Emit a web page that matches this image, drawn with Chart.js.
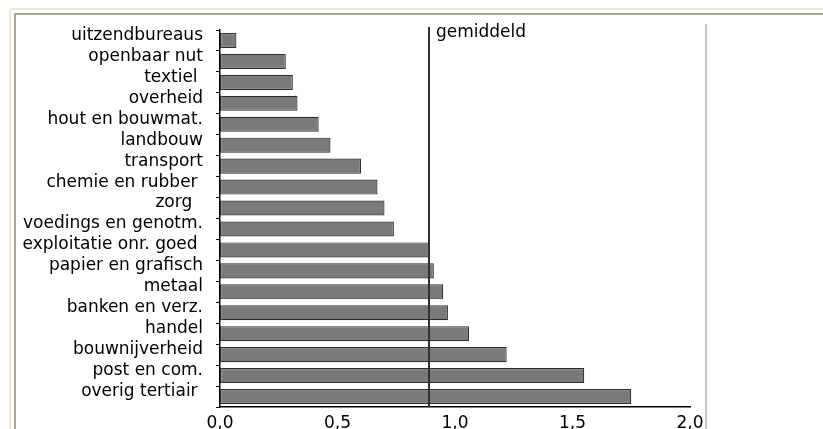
<!DOCTYPE html>
<html>
<head>
    <title>Gemiddeld per sector</title>
    <script src="https://cdn.jsdelivr.net/npm/chart.js@4.4.1/dist/chart.umd.min.js"></script>
    <style>
        body { margin: 0; background: #fff; }
        #wrap { position: relative; width: 823px; height: 429px; overflow: hidden; }
        #myChart { position: absolute; left: 0; top: 0; }
        .line { position: absolute; }
    </style>
</head>
<body>
<div id="wrap">
    <canvas id="myChart" width="823" height="429"></canvas>
    <div class="line" style="left:9px;top:8px;width:814px;height:2px;background:#ece9d8"></div>
    <div class="line" style="left:9px;top:8px;width:2px;height:421px;background:#ece9d8"></div>
    <div class="line" style="left:14px;top:13px;width:809px;height:2px;background:#a8a698"></div>
    <div class="line" style="left:14px;top:13px;width:2px;height:416px;background:#a8a698"></div>
    <div class="line" style="left:705px;top:24px;width:2px;height:405px;background:#c4c4c4"></div>
</div>
<script>
    // sectors, top to bottom
    var sectors = ['uitzendbureaus', 'openbaar nut', 'textiel ', 'overheid', 'hout en bouwmat.',
        'landbouw', 'transport', 'chemie en rubber ', 'zorg  ', 'voedings en genotm.',
        'exploitatie onr. goed ', 'papier en grafisch', 'metaal', 'banken en verz.', 'handel',
        'bouwnijverheid', 'post en com.', 'overig tertiair '];
    var values = [0.07, 0.28, 0.31, 0.33, 0.42, 0.47, 0.60, 0.67, 0.70, 0.74,
        0.89, 0.91, 0.95, 0.97, 1.06, 1.22, 1.55, 1.75];
    var gemiddeld = 0.89;
    var xTicks = [0, 0.5, 1.0, 1.5, 2.0];

    var font = { family: '"DejaVu Sans", sans-serif', size: 17 };

    var meanLine = {
        id: 'meanLine',
        afterDatasetsDraw: function (chart) {
            var ctx = chart.ctx;
            var x = Math.round(chart.scales.x.getPixelForValue(gemiddeld));
            ctx.save();
            ctx.strokeStyle = '#303030';
            ctx.lineWidth = 2;
            ctx.beginPath();
            ctx.moveTo(x, chart.chartArea.top - 3);
            ctx.lineTo(x, chart.chartArea.bottom);
            ctx.stroke();
            ctx.fillStyle = '#000';
            ctx.font = font.size + 'px ' + font.family;
            ctx.textAlign = 'left';
            ctx.textBaseline = 'alphabetic';
            ctx.fillText('gemiddeld', x + 7, chart.chartArea.top + 7);
            ctx.restore();
        }
    };

    var ctx = document.getElementById('myChart').getContext('2d');
    var myChart = new Chart(ctx, {
        type: 'bar',
        data: {
            labels: sectors,
            datasets: [{
                data: values,
                backgroundColor: '#7a7a7a',
                borderColor: '#2e2e2e',
                borderWidth: 1.2,
                borderSkipped: false,
                barPercentage: 0.72,
                categoryPercentage: 1
            }]
        },
        options: {
            indexAxis: 'y',
            responsive: false,
            animation: false,
            layout: { padding: { left: 0, top: 30, right: 133, bottom: 0 } },
            plugins: { legend: { display: false }, tooltip: { enabled: false } },
            scales: {
                x: {
                    min: 0,
                    max: 2,
                    afterBuildTicks: function (scale) {
                        scale.ticks = xTicks.map(function (v) { return { value: v }; });
                    },
                    afterFit: function (scale) {
                        scale.height = 22;
                        scale.paddingLeft = 0;
                        scale.paddingRight = 0;
                    },
                    grid: { display: false },
                    border: { display: true, color: '#000', width: 1.5 },
                    ticks: {
                        color: '#000',
                        font: font,
                        padding: -2,
                        maxRotation: 0,
                        autoSkip: false,
                        callback: function (v) { return v.toFixed(1).replace('.', ','); }
                    }
                },
                y: {
                    afterFit: function (scale) {
                        scale.width = 220;
                        scale.paddingTop = 0;
                        scale.paddingBottom = 0;
                    },
                    grid: {
                        offset: true,
                        drawOnChartArea: false,
                        drawTicks: true,
                        tickLength: 4,
                        tickColor: '#000',
                        lineWidth: 1
                    },
                    border: { display: true, color: '#000', width: 1.5 },
                    ticks: {
                        color: '#000',
                        font: font,
                        padding: 13,
                        labelOffset: -5,
                        autoSkip: false
                    }
                }
            }
        },
        plugins: [meanLine]
    });
</script>
</body>
</html>
